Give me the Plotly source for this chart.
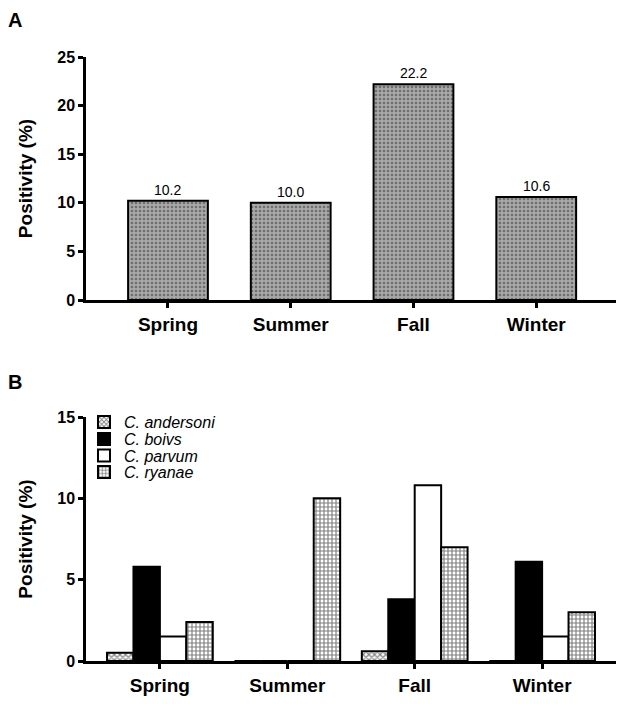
import plotly.graph_objects as go

# ---- data ----
seasons = ["Spring", "Summer", "Fall", "Winter"]
overall_positivity = [10.2, 10.0, 22.2, 10.6]
overall_labels = ["10.2", "10.0", "22.2", "10.6"]

species = ["C. andersoni", "C. boivs", "C. parvum", "C. ryanae"]
andersoni = [0.5, 0, 0.6, 0]
boivs = [5.8, 0, 3.8, 6.1]
parvum = [1.5, 0, 10.8, 1.5]
ryanae = [2.4, 10.0, 7.0, 3.0]
species_values = [andersoni, boivs, parvum, ryanae]

yticks_a = [0, 5, 10, 15, 20, 25]
yticks_b = [0, 5, 10, 15]

FONT = "Liberation Sans, Arial, sans-serif"
W, H = 608, 688  # page has an 8px body margin

fig = go.Figure()

# Panel A
fig.add_trace(go.Bar(
    x=seasons, y=overall_positivity, xaxis="x", yaxis="y",
    width=0.65, showlegend=False,
    marker=dict(color="#a6a6a6", line=dict(color="black", width=2),
                pattern=dict(shape=".", fgcolor="#333333", bgcolor="#a8a8a8",
                             size=4, solidity=0.35)),
    hoverinfo="skip",
))

# Panel B
styles = [
    dict(color="white", line=dict(color="black", width=2),
         pattern=dict(shape="x", fgcolor="black", bgcolor="white", size=4, solidity=0.5)),
    dict(color="black", line=dict(color="black", width=2)),
    dict(color="white", line=dict(color="black", width=2)),
    dict(color="white", line=dict(color="black", width=2),
         pattern=dict(shape="+", fgcolor="black", bgcolor="white", size=4, solidity=0.5)),
]
legend_ids = ["legend", "legend2", "legend3", "legend4"]
for name, vals, st, lg in zip(species, species_values, styles, legend_ids):
    fig.add_trace(go.Bar(
        x=seasons, y=vals, name=name, xaxis="x2", yaxis="y2",
        marker=st, hoverinfo="skip", legend=lg,
    ))

axis_common = dict(showline=True, linecolor="black", linewidth=2.5,
                   ticks="outside", tickcolor="black", tickwidth=2.5, ticklen=5,
                   showgrid=False, zeroline=False, automargin=False,
                   tickfont=dict(family=FONT, size=16, color="black", weight="bold"))
xfont = dict(family=FONT, size=19, color="black", weight="bold")
tfont = dict(family=FONT, size=19, color="black", weight="bold")

legend_font = dict(family=FONT, size=16, color="black", style="italic")
legend_centers = [414, 431, 447.5, 464]  # figure px from top
legends = {}
for lg, cy in zip(legend_ids, legend_centers):
    legends[lg] = dict(x=76 / W, y=1 - cy / H, xanchor="left", yanchor="middle",
                       bgcolor="rgba(0,0,0,0)", font=legend_font)

fig.update_layout(
    width=W, height=H,
    margin=dict(l=0, r=0, t=0, b=0),
    paper_bgcolor="white", plot_bgcolor="white",
    barmode="group", bargap=0.17, bargroupgap=0,
    font=dict(family=FONT, color="black"),
    xaxis=dict(**{**axis_common, "tickfont": xfont}, domain=[78 / W, 1.0],
               anchor="y", range=[-0.668, 3.65], type="category"),
    yaxis=dict(**axis_common, domain=[1 - 292 / H, 1 - 49 / H], anchor="x",
               range=[0, 25], tickvals=yticks_a,
               title=dict(text="Positivity (%)", standoff=20, font=tfont)),
    xaxis2=dict(**{**axis_common, "tickfont": xfont}, domain=[78 / W, 1.0],
                anchor="y2", range=[-0.58, 3.58], type="category"),
    yaxis2=dict(**axis_common, domain=[1 - 653 / H, 1 - 409 / H], anchor="x2",
                range=[0, 15], tickvals=yticks_b,
                title=dict(text="Positivity (%)", standoff=20, font=tfont)),
    **legends,
)

# value labels for panel A
for s, v, lab in zip(seasons, overall_positivity, overall_labels):
    fig.add_annotation(x=s, y=v, xref="x", yref="y", text=lab, showarrow=False,
                       yanchor="bottom", yshift=1,
                       font=dict(family=FONT, size=14, color="black"))

# panel letters
fig.add_annotation(x=6.5 / W, y=1 - 12 / H, xref="paper", yref="paper", text="A",
                   showarrow=False, xanchor="center", yanchor="middle",
                   font=dict(family=FONT, size=20, color="black", weight="bold"))
fig.add_annotation(x=6.5 / W, y=1 - 373.5 / H, xref="paper", yref="paper", text="B",
                   showarrow=False, xanchor="center", yanchor="middle",
                   font=dict(family=FONT, size=20, color="black", weight="bold"))

fig.write_html("out.html")
